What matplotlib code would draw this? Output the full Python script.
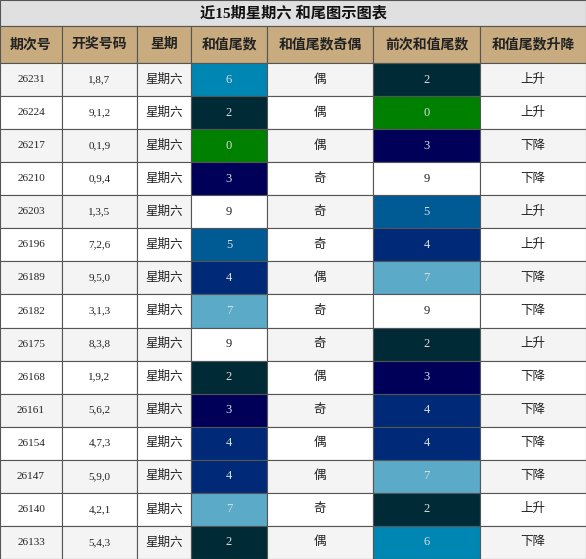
import matplotlib

matplotlib.use("Agg")
import matplotlib.pyplot as plt
from matplotlib.patches import Rectangle

plt.rcParams["font.family"] = ["Liberation Serif", "Noto Sans CJK SC"]

title = "近15期星期六 和尾图示图表"
headers = ["期次号", "开奖号码", "星期", "和值尾数", "和值尾数奇偶", "前次和值尾数", "和值尾数升降"]
issues = ["26231", "26224", "26217", "26210", "26203", "26196", "26189", "26182",
          "26175", "26168", "26161", "26154", "26147", "26140", "26133"]
numbers = ["1,8,7", "9,1,2", "0,1,9", "0,9,4", "1,3,5", "7,2,6", "9,5,0", "3,1,3",
           "8,3,8", "1,9,2", "5,6,2", "4,7,3", "5,9,0", "4,2,1", "5,4,3"]
tails = [6, 2, 0, 3, 9, 5, 4, 7, 9, 2, 3, 4, 4, 7, 2]
parity = ["偶", "偶", "偶", "奇", "奇", "奇", "偶", "奇", "奇", "偶", "奇", "偶", "偶", "奇", "偶"]
prev_tails = [2, 0, 3, 9, 5, 4, 7, 9, 2, 3, 4, 4, 7, 2, 6]
trend = ["上升", "上升", "下降", "下降", "上升", "上升", "下降", "下降", "上升", "下降",
         "下降", "下降", "下降", "上升", "下降"]

tail_colors = {0: "#008000", 2: "#002b36", 3: "#000058", 4: "#002a78", 5: "#005a94",
               6: "#0086b3", 7: "#5aaac8", 9: "#ffffff"}

col_edges = [0, 62, 137, 191, 267, 373, 480, 586]
W, H = 586, 559
title_h, head_h = 26, 37
row_h = (H - title_h - head_h) / len(issues)

fig = plt.figure(figsize=(W / 100, H / 100), dpi=100)
ax = fig.add_axes([0, 0, 1, 1])
ax.set_xlim(0, W)
ax.set_ylim(H, 0)
ax.axis("off")


def cell(x0, x1, y0, h, text, bg, color="#222222", size=9, weight="normal"):
    ax.add_patch(Rectangle((x0, y0), x1 - x0, h, facecolor=bg, edgecolor="#555555", lw=0.8))
    ax.text((x0 + x1) / 2, y0 + h / 2, text, ha="center", va="center",
            color=color, fontsize=size, fontweight=weight)


cell(0, W, 0, title_h, title, "#e0e0e0", color="#111111", size=11, weight="bold")
for j, h in enumerate(headers):
    cell(col_edges[j], col_edges[j + 1], title_h, head_h, h, "#c8ab7e",
         color="#222222", size=10, weight="bold")

for i in range(len(issues)):
    y0 = title_h + head_h + i * row_h
    bg = "#f4f4f4" if i % 2 == 0 else "#ffffff"
    vals = [issues[i], numbers[i], "星期六", str(tails[i]), parity[i], str(prev_tails[i]), trend[i]]
    for j, v in enumerate(vals):
        c_bg, c_fg = bg, "#222222"
        if j == 3:
            c_bg = tail_colors[tails[i]]
        elif j == 5:
            c_bg = tail_colors[prev_tails[i]]
        if j in (3, 5) and c_bg != "#ffffff":
            c_fg = "#dddddd"
        size = 8 if j in (0, 1) else 9
        cell(col_edges[j], col_edges[j + 1], y0, row_h, v, c_bg, color=c_fg, size=size)

fig.savefig("out.png", dpi=100)
